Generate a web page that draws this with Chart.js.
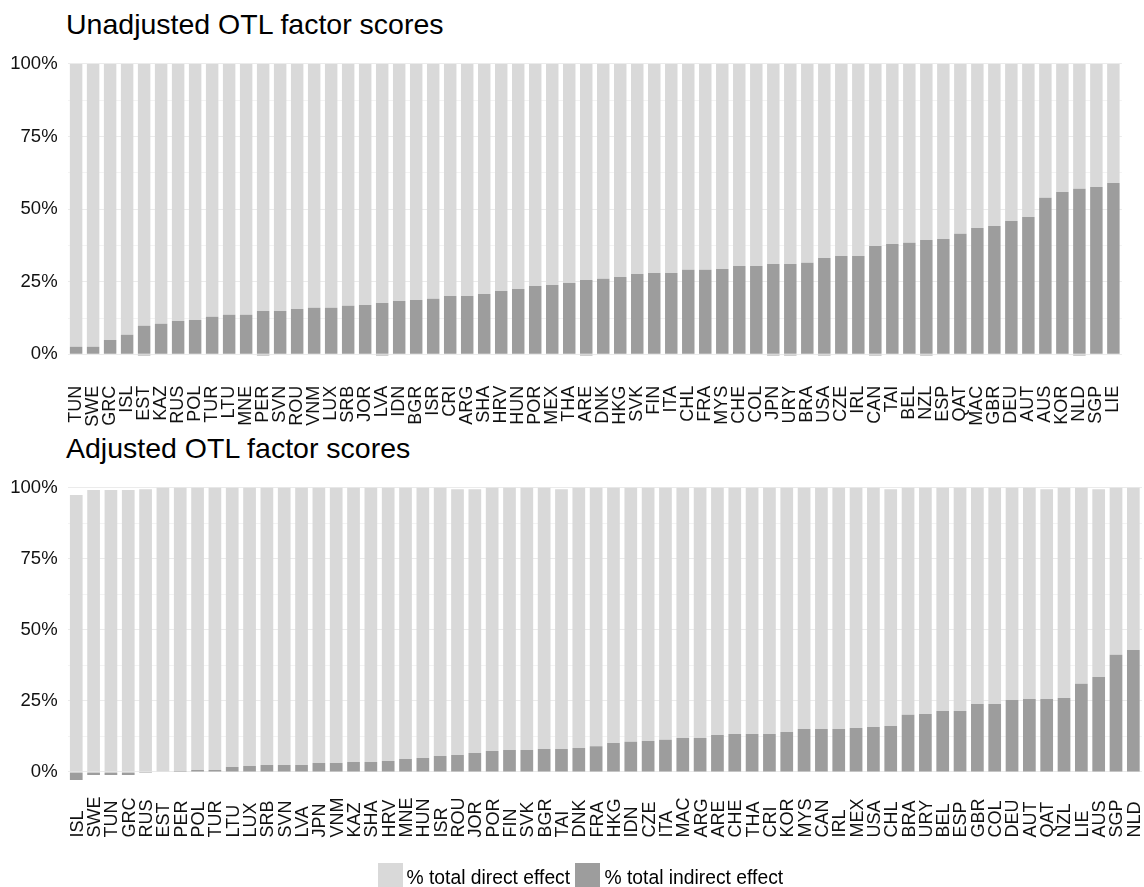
<!DOCTYPE html>
<html>
<head>
<meta charset="utf-8">
<script src="https://cdn.jsdelivr.net/npm/chart.js@4.4.1/dist/chart.umd.min.js"></script>
<style>
html,body{margin:0;padding:0;background:#fff;}
body{width:1144px;height:887px;position:relative;overflow:hidden;font-family:"Liberation Sans",Arial,Helvetica,sans-serif;}
.title{position:absolute;left:66px;font-size:28.5px;line-height:28.5px;color:#000;white-space:nowrap;}
.wrap{position:absolute;left:0;width:1144px;}
.lgbox{position:absolute;top:863px;width:24.5px;height:24px;}
.lgtxt{position:absolute;top:867.7px;font-size:19.3px;line-height:19.3px;color:#000;white-space:nowrap;}
</style>
</head>
<body>
<div class="title" style="top:10px">Unadjusted OTL factor scores</div>
<div class="title" style="top:434px">Adjusted OTL factor scores</div>
<div class="wrap" style="top:0;height:430px"><canvas id="c1" width="1144" height="430"></canvas></div>
<div class="wrap" style="top:430px;height:457px"><canvas id="c2" width="1144" height="457"></canvas></div>
<div class="lgbox" style="left:378px;background:#d9d9d9"></div>
<div class="lgtxt" style="left:406.5px">% total direct effect</div>
<div class="lgbox" style="left:575px;background:#9d9d9d"></div>
<div class="lgtxt" style="left:604.5px">% total indirect effect</div>
<script>
// ---------- Data ----------
const legendLabels = ["% total direct effect", "% total indirect effect"];
const yTickValues = [0, 12.5, 25, 37.5, 50, 62.5, 75, 87.5, 100];

// Unadjusted panel
const labelsTop = ["TUN","SWE","GRC","ISL","EST","KAZ","RUS","POL","TUR","LTU","MNE","PER","SVN","ROU","VNM","LUX","SRB","JOR","LVA","IDN","BGR","ISR","CRI","ARG","SHA","HRV","HUN","POR","MEX","THA","ARE","DNK","HKG","SVK","FIN","ITA","CHL","FRA","MYS","CHE","COL","JPN","URY","BRA","USA","CZE","IRL","CAN","TAI","BEL","NZL","ESP","QAT","MAC","GBR","DEU","AUT","AUS","KOR","NLD","SGP","LIE"];
const indirectTop = [2.6,2.6,4.9,6.7,9.8,10.5,11.5,11.8,12.9,13.6,13.6,14.9,14.9,15.6,16.0,16.0,16.7,17.0,17.7,18.4,18.7,19.1,20.1,20.1,20.8,21.8,22.5,23.5,23.9,24.6,25.6,26.0,26.6,27.7,28.0,28.0,29.1,29.1,29.4,30.4,30.4,31.1,31.1,31.5,33.2,33.9,33.9,37.3,38.0,38.4,39.4,39.7,41.5,43.5,44.2,45.9,47.3,53.9,55.9,57.0,57.6,59.0];
const indirectNegTop = [0,0,0,0,-0.4,0,0,0,0,0,0,-0.4,0,0,0,0,0,0,-0.4,0,0,0,0,0,0,0,0,0,0,0,-0.4,0,0,0,0,0,0,0,0,0,0,-0.4,-0.4,0,-0.4,0,0,-0.4,0,0,-0.4,0,0,0,0,0,0,0,0,-0.4,0,0];
const directTop = [97.4,97.4,95.1,93.3,90.2,89.5,88.5,88.2,87.1,86.4,86.4,85.1,85.1,84.4,84.0,84.0,83.3,83.0,82.3,81.6,81.3,80.9,79.9,79.9,79.2,78.2,77.5,76.5,76.1,75.4,74.4,74.0,73.4,72.3,72.0,72.0,70.9,70.9,70.6,69.6,69.6,68.9,68.9,68.5,66.8,66.1,66.1,62.7,62.0,61.6,60.6,60.3,58.5,56.5,55.8,54.1,52.7,46.1,44.1,43.0,42.4,41.0];

// Adjusted panel
const labelsBot = ["ISL","SWE","TUN","GRC","RUS","EST","PER","POL","TUR","LTU","LUX","SRB","SVN","LVA","JPN","VNM","KAZ","SHA","HRV","MNE","HUN","ISR","ROU","JOR","POR","FIN","SVK","BGR","TAI","DNK","FRA","HKG","IDN","CZE","ITA","MAC","ARG","ARE","CHE","THA","CRI","KOR","MYS","CAN","IRL","MEX","USA","CHL","BRA","URY","BEL","ESP","GBR","COL","DEU","AUT","QAT","NZL","LIE","AUS","SGP","NLD"];
const indirectBot = [0,0,0,0,0,0,0.35,0.7,0.7,1.8,2.1,2.5,2.5,2.5,3.2,3.2,3.5,3.5,3.9,4.6,4.9,5.6,6.0,6.7,7.4,7.7,7.7,8.1,8.1,8.4,9.1,10.2,10.6,10.9,11.3,12.0,12.0,13.0,13.4,13.4,13.4,14.1,15.1,15.1,15.1,15.5,15.8,16.2,20.1,20.4,21.5,21.5,23.9,23.9,25.3,25.7,25.7,26.0,31.0,33.4,41.2,42.9];
const indirectNegBot = [-2.8,-1.05,-1.05,-1.05,-0.35,0,0,0,0,0,0,0,0,0,0,0,0,0,0,0,0,0,0,0,0,0,0,0,0,0,0,0,0,0,0,0,0,0,0,0,0,0,0,0,0,0,0,0,0,0,0,0,0,0,0,0,0,0,0,0,0,0];
const directBot = [97.4,99.2,99.2,99.2,99.5,100,99.65,99.3,99.3,98.2,97.9,97.5,97.5,97.5,96.8,96.8,96.5,96.5,96.1,95.4,95.1,94.4,93.5,92.8,92.6,92.3,92.3,91.9,91.4,91.6,90.9,89.8,89.4,89.1,88.7,88.0,88.0,87.0,86.6,86.6,86.6,85.9,84.9,84.9,84.9,84.5,84.2,83.3,79.9,79.6,78.5,78.5,76.1,76.1,74.7,74.3,73.8,74.0,69.0,66.1,58.8,57.1];

// ---------- Styles ----------
const FONT = '"Liberation Sans", Arial, Helvetica, sans-serif';
const LIGHT = '#d9d9d9', DARK = '#9d9d9d', TXT = '#111111';

function makeChart(id, labels, ind, neg, dir, yMin, yMax, padTop, areaBottom, canvasH, showTicks, extraPlugins) {
  const barOpts = {barPercentage: 0.733, categoryPercentage: 1, borderWidth: 0};
  return new Chart(document.getElementById(id), {
    type: 'bar',
    data: {
      labels: labels,
      datasets: [
        Object.assign({label: legendLabels[1], data: ind, backgroundColor: DARK}, barOpts),
        Object.assign({label: legendLabels[1] + ' (neg)', data: neg, backgroundColor: DARK}, barOpts),
        Object.assign({label: legendLabels[0], data: dir, backgroundColor: LIGHT}, barOpts)
      ]
    },
    options: {
      responsive: false,
      animation: false,
      devicePixelRatio: 1,
      layout: {padding: {top: padTop, right: 2, left: 0, bottom: 0}},
      plugins: {legend: {display: false}, tooltip: {enabled: false}, title: {display: false}},
      scales: {
        x: {
          stacked: true,
          offset: true,
          grid: {display: false},
          border: {display: false},
          afterFit: s => { s.height = canvasH - areaBottom; },
          ticks: {display: showTicks, autoSkip: false, maxRotation: 90, minRotation: 90, padding: 9,
                  color: TXT, font: {family: FONT, size: 18}}
        },
        y: {
          stacked: true,
          min: yMin, max: yMax,
          afterBuildTicks: s => { s.ticks = yTickValues.map(v => ({value: v})); },
          afterFit: s => { s.width = 67.6; },
          border: {display: false},
          grid: {
            drawTicks: false,
            color: '#ebebeb',
            lineWidth: c => (c.tick && c.tick.value % 25 === 0) ? 1.1 : 0.6
          },
          ticks: {padding: 10, color: TXT, font: {family: FONT, size: 18.5},
                  callback: v => (v % 25 === 0 ? v + '%' : '')}
        }
      }
    },
    plugins: extraPlugins || []
  });
}

const bottomLabelsPlugin = {
  id: 'bottomLabels',
  afterDraw(chart) {
    const ctx = chart.ctx, xs = chart.scales.x;
    ctx.save();
    ctx.font = '18px ' + FONT;
    ctx.fillStyle = TXT;
    ctx.textAlign = 'left';
    ctx.textBaseline = 'alphabetic';
    chart.data.labels.forEach((t, i) => {
      const x = xs.getPixelForValue(i) + 6.45;
      ctx.save();
      ctx.translate(x, 407.5);
      ctx.rotate(-Math.PI / 2);
      ctx.fillText(t, 0, 0);
      ctx.restore();
    });
    ctx.restore();
  }
};

makeChart('c1', labelsTop, indirectTop, indirectNegTop, directTop, -5, 105, 49.5, 368.8, 430, true);
makeChart('c2', labelsBot, indirectBot, indirectNegBot, directBot, -7.95, 105.14, 43.1, 364.6, 457, false, [bottomLabelsPlugin]);
</script>
</body>
</html>
